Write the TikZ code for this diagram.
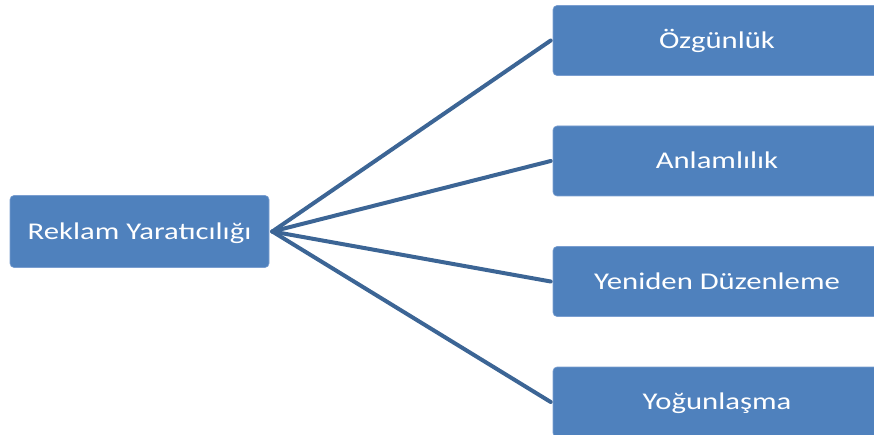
\documentclass[tikz,border=0pt]{standalone}
\usepackage{fontspec}
\newfontfamily\boxfont[FakeStretch=1.28]{Carlito}
\definecolor{boxblue}{HTML}{4F81BD}
\definecolor{boxedge}{HTML}{7A9ED0}
\definecolor{linkblue}{HTML}{3C6595}
\begin{document}
\begin{tikzpicture}[x=1pt,y=-1pt,
  box/.style={fill=boxblue, draw=boxedge, line width=0.6pt, rounded corners=4pt,
    text=white, font=\boxfont\fontsize{24}{28}\selectfont,
    text height=15.5pt, text depth=0pt, inner sep=0pt},
  link/.style={draw=linkblue, line width=4pt, line cap=round}]
\useasboundingbox (0,0) rectangle (874,435);
\clip (0,0) rectangle (874,435);

% root concept on the left
\node[box, minimum width=259pt, minimum height=72pt] (root) at (139.5,231.5) {Reklam Yaratıcılığı};

% the four criteria on the right (boxes run past the right edge)
\node[box, minimum width=328pt, minimum height=70pt] (c1) at (717,40.5) {Özgünlük};
\node[box, minimum width=328pt, minimum height=70pt] (c2) at (717,161) {Anlamlılık};
\node[box, minimum width=328pt, minimum height=70pt] (c3) at (717,281.5) {Yeniden Düzenleme};
\node[box, minimum width=328pt, minimum height=70pt] (c4) at (717,402) {Yoğunlaşma};

% connectors fanning out from the root
\coordinate (hub) at ([xshift=3pt]root.east);
\foreach \n in {c1,c2,c3,c4}
  \draw[link] (hub) -- ([xshift=-2pt]\n.west);
\end{tikzpicture}
\end{document}
